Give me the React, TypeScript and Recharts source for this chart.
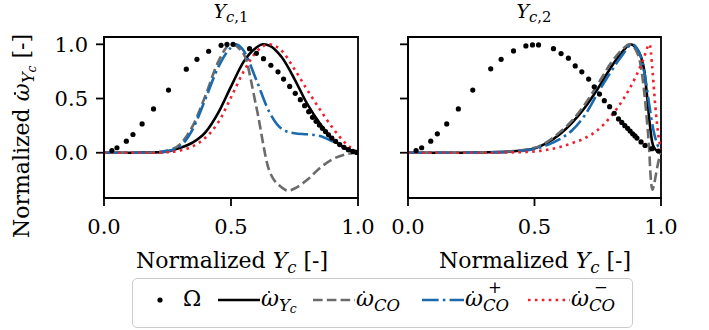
import React from 'react';
import { ComposedChart, Line, XAxis, YAxis, ReferenceArea } from 'recharts';

const FONT = '"DejaVu Serif", "Liberation Serif", serif';

const Y_MIN = -0.4175;
const Y_MAX = 1.0675;
const X_TICKS = [0, 0.5, 1];
const Y_TICKS = [0, 0.5, 1];

// panel 1 (Y_c,1)
const omega1X = [0.031, 0.051, 0.088, 0.114, 0.15, 0.195, 0.254, 0.324, 0.366, 0.412, 0.461, 0.484, 0.508, 0.573, 0.6, 0.628, 0.657, 0.685, 0.707, 0.731, 0.753, 0.773, 0.79, 0.806, 0.821, 0.835, 0.848, 0.86, 0.872, 0.884, 0.897, 0.912, 0.928, 0.945, 0.962, 0.98, 0.995];
const omega1Y = [0.02, 0.046, 0.107, 0.168, 0.266, 0.404, 0.578, 0.771, 0.862, 0.936, 0.991, 1.0, 1.0, 0.96, 0.917, 0.868, 0.807, 0.746, 0.679, 0.612, 0.548, 0.489, 0.434, 0.379, 0.327, 0.29, 0.255, 0.225, 0.195, 0.165, 0.135, 0.105, 0.075, 0.05, 0.028, 0.012, 0.003];
const wyc1X = [0, 0.1, 0.2, 0.25, 0.3, 0.35, 0.4, 0.45, 0.5, 0.55, 0.6, 0.625, 0.65, 0.7, 0.75, 0.8, 0.85, 0.9, 0.95, 1.0];
const wyc1Y = [0, 0, 0.003, 0.012, 0.045, 0.095, 0.19, 0.37, 0.61, 0.84, 0.97, 1.0, 0.99, 0.88, 0.68, 0.45, 0.27, 0.125, 0.04, 0];
const wco1X = [0, 0.15, 0.2, 0.25, 0.3, 0.35, 0.4, 0.45, 0.5, 0.55, 0.6, 0.65, 0.7, 0.725, 0.75, 0.8, 0.85, 0.9, 0.95, 1.0];
const wco1Y = [0, 0, 0.004, 0.02, 0.08, 0.25, 0.53, 0.84, 1.0, 0.91, 0.42, -0.16, -0.32, -0.35, -0.33, -0.25, -0.14, -0.06, -0.015, 0];
const wcoP1X = [0, 0.15, 0.2, 0.25, 0.3, 0.35, 0.4, 0.45, 0.5, 0.52, 0.55, 0.6, 0.65, 0.7, 0.75, 0.8, 0.85, 0.9, 0.95, 1.0];
const wcoP1Y = [0, 0, 0.003, 0.015, 0.06, 0.22, 0.5, 0.79, 0.97, 1.0, 0.94, 0.67, 0.38, 0.22, 0.18, 0.17, 0.155, 0.105, 0.045, 0];
const wcoM1X = [0, 0.2, 0.25, 0.3, 0.35, 0.4, 0.45, 0.5, 0.55, 0.6, 0.65, 0.7, 0.75, 0.8, 0.85, 0.9, 0.95, 1.0];
const wcoM1Y = [0, 0, 0.005, 0.02, 0.06, 0.14, 0.28, 0.51, 0.75, 0.93, 1.0, 0.94, 0.77, 0.58, 0.4, 0.23, 0.09, 0];

// panel 2 (Y_c,2)
const omega2X = [0.032, 0.054, 0.09, 0.116, 0.153, 0.199, 0.256, 0.327, 0.368, 0.417, 0.466, 0.492, 0.516, 0.575, 0.605, 0.634, 0.661, 0.687, 0.714, 0.736, 0.757, 0.776, 0.797, 0.815, 0.832, 0.845, 0.857, 0.868, 0.878, 0.888, 0.897, 0.905, 0.921, 0.937, 0.964, 0.99];
const omega2Y = [0.02, 0.046, 0.107, 0.174, 0.266, 0.404, 0.578, 0.774, 0.862, 0.939, 0.985, 0.994, 0.994, 0.96, 0.915, 0.872, 0.801, 0.746, 0.679, 0.608, 0.541, 0.48, 0.425, 0.364, 0.312, 0.28, 0.25, 0.225, 0.2, 0.175, 0.155, 0.135, 0.1, 0.067, 0.037, 0.015];
const wyc2X = [0, 0.2, 0.3, 0.4, 0.45, 0.5, 0.55, 0.6, 0.65, 0.7, 0.75, 0.8, 0.85, 0.88, 0.9, 0.92, 0.935, 0.945, 0.955, 0.965, 0.975, 0.985, 1.0];
const wyc2Y = [0, 0, 0.003, 0.01, 0.02, 0.04, 0.09, 0.17, 0.28, 0.42, 0.59, 0.78, 0.94, 1.0, 0.97, 0.89, 0.74, 0.52, 0.28, 0.1, 0.04, 0.015, 0.01];
const wco2X = [0, 0.2, 0.3, 0.4, 0.5, 0.55, 0.6, 0.65, 0.7, 0.75, 0.8, 0.85, 0.875, 0.9, 0.92, 0.935, 0.945, 0.952, 0.96, 0.966, 0.972, 0.98, 0.99, 1.0];
const wco2Y = [0, 0, 0.003, 0.012, 0.045, 0.1, 0.19, 0.3, 0.45, 0.63, 0.82, 0.96, 1.0, 0.95, 0.8, 0.53, 0.28, 0.08, -0.25, -0.34, -0.3, -0.2, -0.08, 0];
const wcoP2X = [0, 0.2, 0.3, 0.4, 0.5, 0.55, 0.6, 0.65, 0.7, 0.75, 0.8, 0.85, 0.885, 0.9, 0.92, 0.94, 0.955, 0.97, 0.985, 1.0];
const wcoP2Y = [0, 0, 0.002, 0.008, 0.035, 0.07, 0.125, 0.21, 0.35, 0.55, 0.74, 0.91, 1.0, 0.98, 0.89, 0.66, 0.42, 0.21, 0.08, 0.02];
const wcoM2X = [0, 0.3, 0.4, 0.5, 0.55, 0.6, 0.65, 0.7, 0.75, 0.8, 0.85, 0.9, 0.93, 0.955, 0.965, 0.975, 0.985, 1.0];
const wcoM2Y = [0, 0, 0.003, 0.012, 0.028, 0.052, 0.09, 0.135, 0.21, 0.33, 0.49, 0.7, 0.86, 1.0, 0.8, 0.5, 0.25, 0.02];

const pts = (xs: number[], ys: number[]) => xs.map((x, i) => ({ x, y: ys[i] }));

const LW = 2.6;
const STYLES = {
  wyc: { color: '#000000', dash: undefined },
  wco: { color: '#6b6b6b', dash: '9.6 4.2' },
  wcoP: { color: '#1a6aad', dash: '16.6 4.2 2.6 4.2' },
  wcoM: { color: '#f0202e', dash: '2.6 4.3' },
};

type Series = { omega: any[]; wyc: any[]; wco: any[]; wcoP: any[]; wcoM: any[] };

const panel1: Series = {
  omega: pts(omega1X, omega1Y),
  wyc: pts(wyc1X, wyc1Y),
  wco: pts(wco1X, wco1Y),
  wcoP: pts(wcoP1X, wcoP1Y),
  wcoM: pts(wcoM1X, wcoM1Y),
};
const panel2: Series = {
  omega: pts(omega2X, omega2Y),
  wyc: pts(wyc2X, wyc2Y),
  wco: pts(wco2X, wco2Y),
  wcoP: pts(wcoP2X, wcoP2Y),
  wcoM: pts(wcoM2X, wcoM2Y),
};

const TICK_FS = 21;
const axisStroke = { stroke: '#000', strokeWidth: 1.8 };
const EmptyTick = () => <g />;

const XTick = ({ x, y, payload }: any) => (
  <text x={x} y={y} dy="0.76em" textAnchor="middle" fill="#000" style={{ fontFamily: FONT, fontSize: TICK_FS }}>
    {Number(payload.value).toFixed(1)}
  </text>
);
const YTick = ({ x, y, payload }: any) => (
  <text x={x} y={y} dy="0.36em" textAnchor="end" fill="#000" style={{ fontFamily: FONT, fontSize: TICK_FS }}>
    {Number(payload.value).toFixed(1)}
  </text>
);

function Panel({ left, width, marginLeft, marginRight, yWidth, yLabels, s }: any) {
  return (
    <div style={{ position: 'absolute', left, top: 0 }}>
      <ComposedChart width={width} height={240} margin={{ top: 37, right: marginRight, bottom: 2, left: marginLeft }}>
        <XAxis
          type="number"
          dataKey="x"
          domain={[0, 1]}
          ticks={X_TICKS}
          allowDataOverflow
          height={40}
          tickSize={8}
          tickMargin={12}
          axisLine={axisStroke}
          tickLine={axisStroke}
          tick={XTick}
        />
        <YAxis
          type="number"
          dataKey="y"
          domain={[Y_MIN, Y_MAX]}
          ticks={Y_TICKS}
          allowDataOverflow
          width={yWidth}
          tickSize={8}
          tickMargin={8}
          axisLine={axisStroke}
          tickLine={axisStroke}
          tick={yLabels ? YTick : EmptyTick}
        />
        <ReferenceArea x1={0} x2={1} y1={Y_MIN} y2={Y_MAX} fill="none" stroke="#000" strokeWidth={1.8} ifOverflow="visible" />
        <Line
          data={s.omega}
          dataKey="y"
          stroke="none"
          dot={{ r: 2.6, fill: '#000', stroke: 'none' }}
          activeDot={false}
          isAnimationActive={false}
        />
        {(['wyc', 'wco', 'wcoP', 'wcoM'] as const).map((k) => (
          <Line
            key={k}
            data={s[k]}
            dataKey="y"
            type="monotone"
            stroke={STYLES[k].color}
            strokeWidth={LW}
            strokeDasharray={STYLES[k].dash}
            dot={false}
            activeDot={false}
            isAnimationActive={false}
          />
        ))}
      </ComposedChart>
    </div>
  );
}

const it = { fontStyle: 'italic' as const };

function WDot() {
  return (
    <span style={{ position: 'relative', display: 'inline-block', ...it }}>
      ω
      <span
        style={{
          position: 'absolute',
          left: '0.3em',
          top: '0.12em',
          width: '0.13em',
          height: '0.13em',
          borderRadius: '50%',
          background: '#000',
        }}
      />
    </span>
  );
}

function Sub({ children, top = '0.28em', size = '0.75em' }: any) {
  return <span style={{ fontSize: size, position: 'relative', top }}>{children}</span>;
}

function SubSup({ sup }: { sup: string }) {
  return (
    <span style={{ position: 'relative', display: 'inline-block' }}>
      <Sub><span style={it}>CO</span></Sub>
      <span style={{ position: 'absolute', left: '0.3em', top: '-0.5em', fontSize: '0.75em' }}>{sup}</span>
    </span>
  );
}

const textBase: React.CSSProperties = {
  position: 'absolute',
  fontFamily: FONT,
  lineHeight: 1,
  whiteSpace: 'nowrap',
  color: '#000',
};

function Legend() {
  const y = 300;
  const sample = (x: number, k: keyof typeof STYLES) => (
    <svg style={{ position: 'absolute', left: x, top: y - 5 }} width={42} height={10}>
      <line x1={0} x2={42} y1={5} y2={5} stroke={STYLES[k].color} strokeWidth={LW} strokeDasharray={STYLES[k].dash} />
    </svg>
  );
  const txt = (x: number, content: React.ReactNode) => (
    <div style={{ ...textBase, left: x, top: 288, fontSize: 22 }}>{content}</div>
  );
  return (
    <>
      <div
        style={{
          position: 'absolute',
          left: 132,
          top: 278,
          width: 501,
          height: 50,
          boxSizing: 'border-box',
          border: '1.3px solid #cccccc',
          borderRadius: 5,
          background: '#fff',
        }}
      />
      <svg style={{ position: 'absolute', left: 155, top: y - 5 }} width={10} height={10}>
        <circle cx={5} cy={5} r={2.6} fill="#000" />
      </svg>
      {txt(183, 'Ω')}
      {sample(218, 'wyc')}
      {txt(261, <><WDot /><Sub><span style={it}>Y</span><Sub top="0.2em"><span style={it}>c</span></Sub></Sub></>)}
      {sample(313, 'wco')}
      {txt(356, <><WDot /><Sub><span style={it}>CO</span></Sub></>)}
      {sample(422, 'wcoP')}
      {txt(465, <><WDot /><SubSup sup="+" /></>)}
      {sample(528, 'wcoM')}
      {txt(571, <><WDot /><SubSup sup="−" /></>)}
    </>
  );
}

export default function App() {
  return (
    <div style={{ position: 'absolute', left: 0, top: 0, width: 709, height: 330, background: '#fff', overflow: 'hidden' }}>
      <Panel left={0} width={392} marginLeft={44} marginRight={34} yWidth={60} yLabels s={panel1} />
      <Panel left={370} width={339} marginLeft={8} marginRight={48} yWidth={30} yLabels={false} s={panel2} />

      {/* titles */}
      <div style={{ ...textBase, left: 231, top: 2, fontSize: 19, transform: 'translateX(-50%)' }}>
        <span style={it}>Y</span>
        <Sub size="0.78em"><span style={it}>c</span>,1</Sub>
      </div>
      <div style={{ ...textBase, left: 534, top: 2, fontSize: 19, transform: 'translateX(-50%)' }}>
        <span style={it}>Y</span>
        <Sub size="0.78em"><span style={it}>c</span>,2</Sub>
      </div>

      {/* x labels */}
      <div style={{ ...textBase, left: 232, top: 250, fontSize: 22, transform: 'translateX(-50%)' }}>
        Normalized <span style={it}>Y</span><Sub><span style={it}>c</span></Sub> [-]
      </div>
      <div style={{ ...textBase, left: 535, top: 250, fontSize: 22, transform: 'translateX(-50%)' }}>
        Normalized <span style={it}>Y</span><Sub><span style={it}>c</span></Sub> [-]
      </div>

      {/* y label */}
      <div
        style={{
          ...textBase,
          left: 22,
          top: 136,
          fontSize: 22,
          transform: 'translate(-50%, -50%) rotate(-90deg)',
        }}
      >
        Normalized <WDot /><Sub><span style={it}>Y</span><Sub top="0.2em"><span style={it}>c</span></Sub></Sub> [-]
      </div>

      <Legend />
    </div>
  );
}
